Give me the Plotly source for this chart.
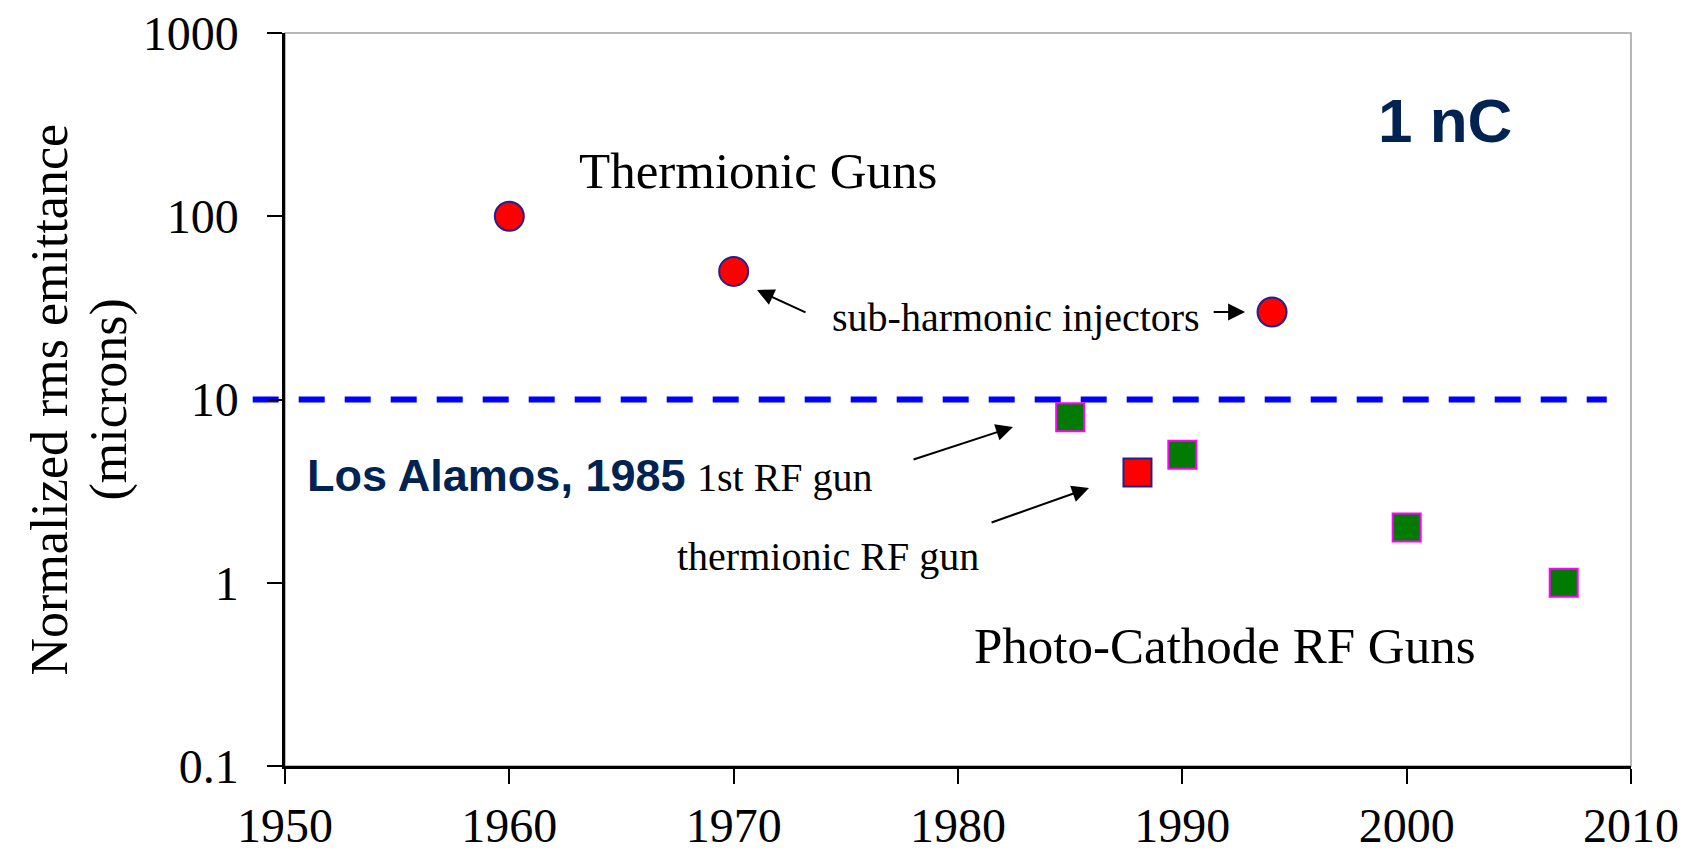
import plotly.graph_objects as go

# thermionic guns (circles)
thermionic_year = [1960, 1970, 1994]
thermionic_emit = [100, 50, 30]

# photo-cathode RF guns (green squares)
photo_year = [1985, 1990, 2000, 2007]
photo_emit = [8, 5, 2, 1]

# thermionic RF gun (red square)
thermrf_year = [1988]
thermrf_emit = [4]

threshold = 10

x_ticks = [1950, 1960, 1970, 1980, 1990, 2000, 2010]
y_ticks = [0.1, 1, 10, 100, 1000]
y_ticktext = ["0.1", "1", "10", "100", "1000"]

serif = "Liberation Serif"
sans = "Liberation Sans"
navy_text = "#002352"
marker_edge = "#22208c"

fig = go.Figure()

fig.add_trace(go.Scatter(
    x=thermionic_year, y=thermionic_emit, mode="markers",
    marker=dict(symbol="circle", size=29, color="#ff0000",
                line=dict(color=marker_edge, width=2)),
    showlegend=False, cliponaxis=False))

fig.add_trace(go.Scatter(
    x=photo_year, y=photo_emit, mode="markers",
    marker=dict(symbol="square", size=28, color="#007a00",
                line=dict(color="#ff00ff", width=2)),
    showlegend=False, cliponaxis=False))

fig.add_trace(go.Scatter(
    x=thermrf_year, y=thermrf_emit, mode="markers",
    marker=dict(symbol="square", size=28, color="#ff0000",
                line=dict(color=marker_edge, width=2)),
    showlegend=False, cliponaxis=False))

# thin grey frame around the plot area
fig.add_shape(type="rect", xref="paper", yref="paper", x0=0, x1=1, y0=0, y1=1,
              line=dict(color="#a0a0a0", width=1.5), layer="below")

# 10 micron dashed line (drawn under the markers)
fig.add_shape(type="line", xref="paper", yref="y",
              x0=-0.024, x1=0.982, y0=threshold, y1=threshold,
              line=dict(color="#0000ff", width=6, dash="26px,20px"), layer="below")

texts = [
    dict(text="Thermionic Guns", x=1971.1, y=2.247, size=51, font=serif, color="black"),
    dict(text="sub-harmonic injectors", x=1982.6, y=1.445, size=40, font=serif, color="black"),
    dict(text="1st RF gun", x=1972.3, y=0.577, size=40, font=serif, color="black"),
    dict(text="thermionic RF gun", x=1974.2, y=0.146, size=40, font=serif, color="black"),
    dict(text="Photo-Cathode RF Guns", x=1991.9, y=-0.345, size=51, font=serif, color="black"),
    dict(text="<b>1 nC</b>", x=2001.7, y=2.525, size=62, font=sans, color=navy_text),
]
for t in texts:
    fig.add_annotation(text=t["text"], x=t["x"], y=t["y"], xref="x", yref="y",
                       showarrow=False, xanchor="center", yanchor="middle",
                       font=dict(family=t["font"], size=t["size"], color=t["color"]))

fig.add_annotation(text="<b>Los Alamos, 1985</b>", x=1950.9, y=0.583, xref="x", yref="y",
                   showarrow=False, xanchor="left", yanchor="middle",
                   font=dict(family=sans, size=45, color=navy_text))

# arrows: (head x, head y, tail x, tail y) in axis units
arrows = [
    (1971.04, 1.5975, 1973.27, 1.472),
    (1992.80, 1.4775, 1991.33, 1.4775),
    (1982.45, 0.850, 1977.95, 0.670),
    (1985.84, 0.517, 1981.43, 0.326),
]
for hx, hy, tx, ty in arrows:
    fig.add_annotation(text="", x=hx, y=hy, ax=tx, ay=ty, xref="x", yref="y",
                       axref="x", ayref="y", showarrow=True, arrowhead=2,
                       arrowsize=1.7, arrowwidth=2, arrowcolor="black")

# y axis title, two rotated lines
for line_text, xpos in [("Normalized rms emittance", -0.1746), ("(microns)", -0.1308)]:
    fig.add_annotation(text=line_text, xref="paper", yref="paper",
                       x=xpos, y=0.5, xanchor="center", yanchor="middle", textangle=-90,
                       showarrow=False, font=dict(family=serif, size=52, color="black"))

fig.update_xaxes(range=[1950, 2010], tickvals=x_ticks, ticks="outside", ticklen=15,
                 tickwidth=2, tickcolor="black", showline=True, linecolor="black",
                 linewidth=3, showgrid=False, zeroline=False, ticklabelstandoff=0,
                 automargin=False, ticklabeloverflow="allow",
                 tickfont=dict(family=serif, size=48, color="black"))
fig.update_yaxes(type="log", range=[-1, 3], tickvals=y_ticks, ticktext=y_ticktext,
                 ticks="outside", ticklen=15, tickwidth=2, tickcolor="black",
                 showline=True, linecolor="black", linewidth=2.5, showgrid=False,
                 zeroline=False, ticklabelstandoff=19, automargin=False,
                 ticklabeloverflow="allow",
                 tickfont=dict(family=serif, size=48, color="black"))

# page body adds 8px, so the figure is 8px smaller than the window
fig.update_layout(width=1681, height=843, margin=dict(l=277, r=58, t=25, b=85),
                  plot_bgcolor="white", paper_bgcolor="white")

fig.write_html("out.html")
